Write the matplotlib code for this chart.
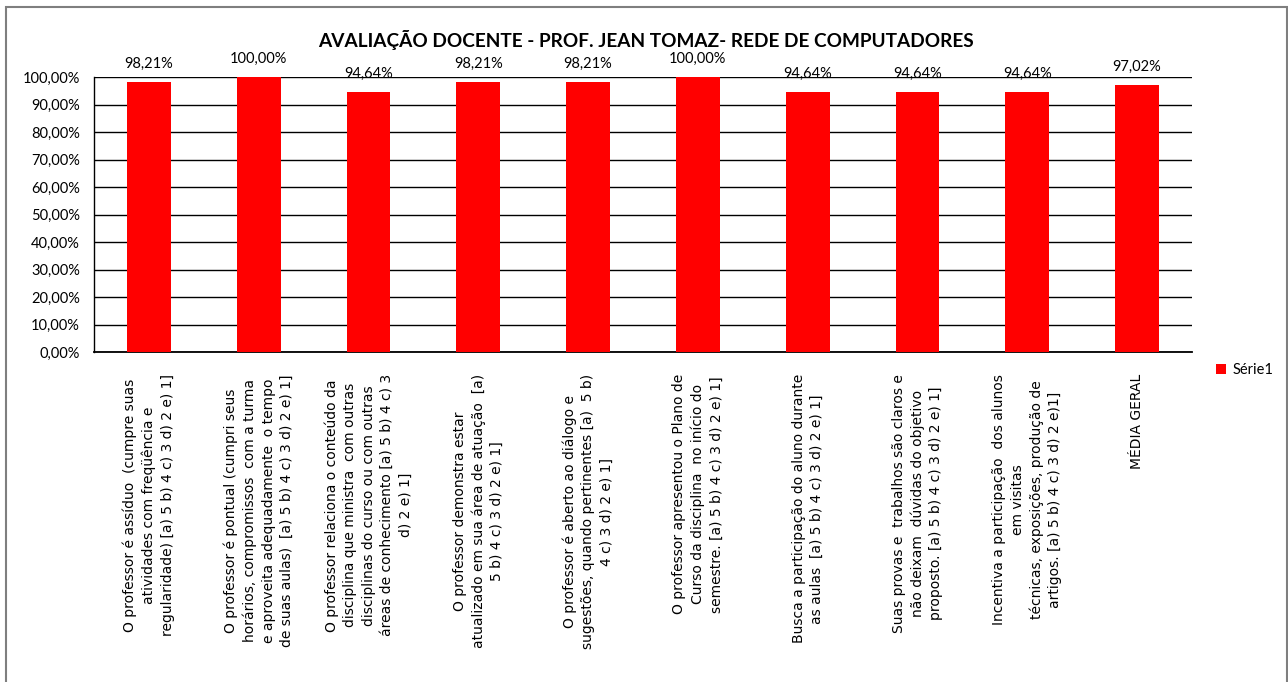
import matplotlib
matplotlib.use('Agg')
import matplotlib.pyplot as plt
from matplotlib.patches import Rectangle
import numpy as np

plt.rcParams['font.family'] = ['Lato', 'DejaVu Sans']

# chart data
categories = [
    "O professor é assíduo  (cumpre suas\natividades com freqüência e\nregularidade) [a) 5 b) 4 c) 3 d) 2 e) 1]",
    "O professor é pontual (cumpri seus\nhorários, compromissos  com a turma\ne aproveita adequadamente  o tempo\nde suas aulas)  [a) 5 b) 4 c) 3 d) 2 e) 1]",
    "O professor relaciona o conteúdo da\ndisciplina que ministra  com outras\ndisciplinas do curso ou com outras\náreas de conhecimento [a) 5 b) 4 c) 3\nd) 2 e) 1]",
    "O professor demonstra estar\natualizado em sua área de atuação  [a)\n5 b) 4 c) 3 d) 2 e) 1]",
    "O professor é aberto ao diálogo e\nsugestões, quando pertinentes [a)  5 b)\n4 c) 3 d) 2 e) 1]",
    "O professor apresentou o Plano de\nCurso da disciplina  no início do\nsemestre. [a) 5 b) 4 c) 3 d) 2 e) 1]",
    "Busca a participação do aluno durante\nas aulas  [a) 5 b) 4 c) 3 d) 2 e) 1]",
    "Suas provas e  trabalhos são claros e\nnão deixam  dúvidas do objetivo\nproposto. [a) 5 b) 4 c) 3 d) 2 e) 1]",
    "Incentiva a participação  dos alunos\nem visitas\ntécnicas, exposições, produção de\nartigos. [a) 5 b) 4 c) 3 d) 2 e)1]",
    "MÉDIA GERAL",
]
values = [98.21, 100.00, 94.64, 98.21, 98.21, 100.00, 94.64, 94.64, 94.64, 97.02]
series_name = "Série1"
title = "AVALIAÇÃO DOCENTE - PROF. JEAN TOMAZ- REDE DE COMPUTADORES"

def pct(v):
    return f"{v:.2f}%".replace('.', ',')

fig = plt.figure(figsize=(12.88, 6.82), dpi=100)
# outer chart border (bottom edge falls outside the picture)
fig.patches.append(Rectangle((6 / 1288, -0.05), 1281 / 1288, 1.05 - 7 / 682,
                             transform=fig.transFigure, fill=False,
                             edgecolor='#7f7f7f', linewidth=1.5))

ax = fig.add_axes([94 / 1288, 1 - 352 / 682, 1098 / 1288, 275 / 682])
x = np.arange(len(values))
bars = ax.bar(x, values, width=0.4, color='#ff0000', zorder=3, label=series_name)

ax.set_ylim(0, 100)
ax.set_xlim(-0.5, len(values) - 0.5)
ax.set_yticks(np.arange(0, 101, 10))
ax.set_yticklabels([pct(t) for t in np.arange(0, 101, 10)], fontsize=10.5)
ax.yaxis.grid(True, color='black', linewidth=1, zorder=0)
ax.set_axisbelow(True)
for s in ['top', 'right']:
    ax.spines[s].set_visible(False)
ax.spines['left'].set_linewidth(1)
ax.spines['bottom'].set_linewidth(1.3)
ax.tick_params(axis='both', length=0)
ax.tick_params(axis='y', pad=10)

ax.set_xticks(x)
ax.set_xticklabels(categories, rotation=90, fontsize=10, ha='center',
                   va='top', multialignment='center', linespacing=1.4,
                   family=['DejaVu Sans'])
ax.tick_params(axis='x', pad=16)

for b, v in zip(bars, values):
    ax.annotate(pct(v), (b.get_x() + b.get_width() / 2, v),
                xytext=(0, 8), textcoords='offset points',
                ha='center', va='bottom', fontsize=10.5)

fig.text(646 / 1288, 1 - 40 / 682, title, ha='center', va='center',
         fontsize=13.7, fontweight='bold')

ax.legend(loc='center left', bbox_to_anchor=(1.01, -0.065), frameon=False,
          fontsize=10.5, handlelength=0.7, handleheight=0.7, handletextpad=0.4)

fig.savefig('out.png', dpi=100)
